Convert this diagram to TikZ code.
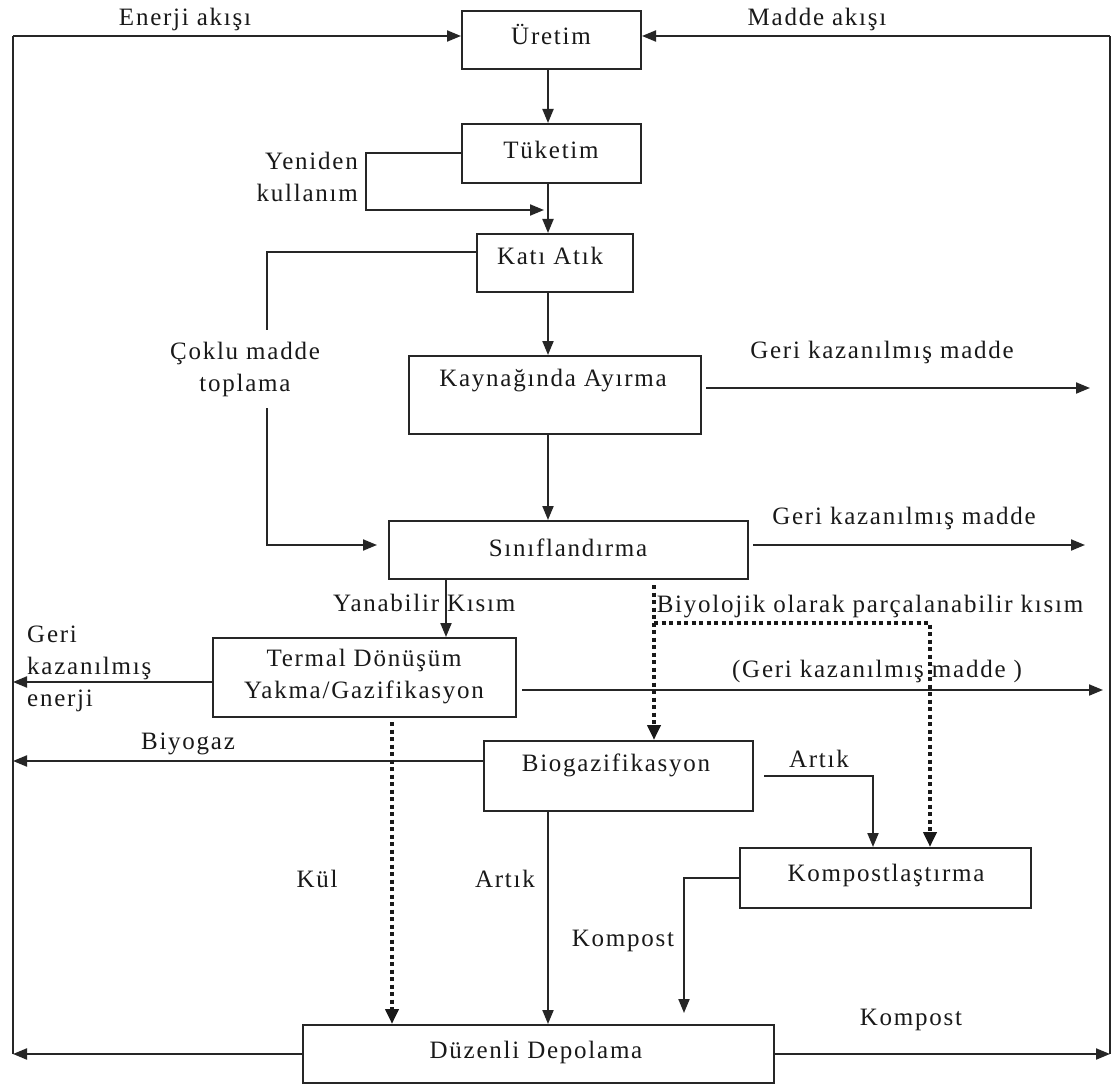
\documentclass[tikz,border=0pt]{standalone}
\usepackage{fontspec}
\setmainfont{Liberation Serif}[LetterSpace=7]
\usetikzlibrary{arrows.meta,calc}
\begin{document}
\begin{tikzpicture}[x=1pt,y=-1pt,
  ln/.style={line width=2pt, draw=black!85},
  arr/.style={ln, -{Triangle[length=14pt,width=11pt]}},
  dotarr/.style={line width=4pt, draw=black!90, dash pattern=on 4pt off 3.5pt, -{Triangle[length=15pt,width=13pt]}},
  box/.style={draw=black!85, line width=2pt, inner sep=0pt, fill=white},
  txt/.style={font=\fontsize{25}{32}\selectfont, inner sep=0pt, text=black!90},
]
\fill[white] (0,0) rectangle (1117,1086);
\useasboundingbox (0,0) rectangle (1117,1086);

% boxes
\node[box, minimum width=179pt, minimum height=58pt] (uretim) at (551.5,40) {};
\node[box, minimum width=179pt, minimum height=59pt] (tuketim) at (551.5,153.5) {};
\node[box, minimum width=156pt, minimum height=58pt] (kati) at (555,263) {};
\node[box, minimum width=292pt, minimum height=78pt] (kaynak) at (555,395) {};
\node[box, minimum width=359pt, minimum height=58pt] (sinif) at (568.5,550) {};
\node[box, minimum width=303pt, minimum height=79pt] (termal) at (364.5,677.5) {};
\node[box, minimum width=269pt, minimum height=70pt] (biogaz) at (618.5,776) {};
\node[box, minimum width=291pt, minimum height=60pt] (kompost) at (885.5,878) {};
\node[box, minimum width=471pt, minimum height=58pt] (duzenli) at (538.5,1054) {};

% box texts
\node[txt, anchor=mid] (uretimT) at (551,42) {Üretim};
\node[txt, anchor=mid] (tuketimT) at (551,156) {Tüketim};
\node[txt, anchor=mid] (katiT) at (550,262) {Katı Atık};
\node[txt, anchor=mid] (kaynakT) at (553,384) {Kaynağında Ayırma};
\node[txt, anchor=mid] (sinifT) at (568,554) {Sınıflandırma};
\node[txt, align=center] (termalT) at (364,677) {Termal Dönüşüm\\Yakma/Gazifikasyon};
\node[txt, anchor=mid] (biogazT) at (616,769) {Biogazifikasyon};
\node[txt, anchor=mid] (kompostT) at (886,879) {Kompostlaştırma};
\node[txt, anchor=mid] (duzenliT) at (536,1056) {Düzenli Depolama};

% coordinates
\coordinate (sp) at (548,0);
\coordinate (LT) at (13,36);
\coordinate (LB) at (13,1054);
\coordinate (RT) at (1110,36);
\coordinate (RB) at (1110,1054);
\coordinate (yb) at (366,210);
\coordinate (ct) at ([yshift=11pt]kati.west);
\coordinate (cm) at (267,545);
\coordinate (yk) at (446,0);
\coordinate (kulS) at (392,722);
\coordinate (bS) at (654,585);
\coordinate (bJ) at (654,623);
\coordinate (bK) at (930,623);
\coordinate (ar) at (873,0);
\coordinate (kpEnd) at (684,1013);
\coordinate (kaS) at ([yshift=7pt]kaynak.east);
\coordinate (kaE) at (1090,0);
\coordinate (siS) at ([yshift=5pt]sinif.east);
\coordinate (siE) at (1085,0);
\coordinate (teE) at ([yshift=-12.5pt]termal.east);
\coordinate (teEnd) at (1103,0);
\coordinate (teW) at ([yshift=-4.5pt]termal.west);
\coordinate (bgW) at ([yshift=15pt]biogaz.west);

% outer loop
\draw[ln] (LB) -- (LT);
\draw[arr] (LT) -- (LT -| uretim.west);
\draw[ln] (RB) -- (RT);
\draw[arr] (RT) -- (RT -| uretim.east);

% main spine
\draw[arr] (uretim.south -| sp) -- (tuketim.north -| sp);
\draw[arr] (tuketim.south -| sp) -- (kati.north -| sp);
\draw[arr] (kati.south -| sp) -- (kaynak.north -| sp);
\draw[arr] (kaynak.south -| sp) -- (sinif.north -| sp);

% Yeniden kullanim
\draw[arr, shorten >=4pt] (tuketim.west) -- (tuketim.west -| yb) -- (yb) -- (yb -| sp);

% Coklu madde toplama
\draw[arr, shorten >=11pt] (ct) -- (ct -| cm) -- (cm) -- (cm -| sinif.west);
\node[txt, align=center, fill=white, inner xsep=2pt, inner ysep=12pt] (coklu) at (245,369) {Çoklu madde\\toplama};

% recovered material
\draw[arr, shorten <=4pt] (kaS) -- (kaS -| kaE);
\draw[arr, shorten <=4pt] (siS) -- (siS -| siE);
\draw[arr, shorten <=5pt] (teE) -- (teE -| teEnd);

% energy outputs
\draw[arr] (teW) -- (teW -| LB);
\draw[arr] (bgW) -- (bgW -| LB);
\draw[arr] (duzenli.west) -- (duzenli.west -| LB);
\draw[arr] (duzenli.east) -- (duzenli.east -| RB);

% Yanabilir
\draw[arr] (sinif.south -| yk) -- (termal.north -| yk);

% dotted flows
\draw[dotarr] (kulS) -- (duzenli.north -| kulS);
\draw[dotarr] (bS) -- (biogaz.north -| bS);
\draw[dotarr] (bJ) -- (bK) -- (kompost.north -| bK);

% Artik, Kompost
\draw[arr, shorten <=10pt] (biogaz.east) -- (biogaz.east -| ar) -- (kompost.north -| ar);
\draw[arr] (biogaz.south -| sp) -- (duzenli.north -| sp);
\draw[arr] (kompost.west) -- (kompost.west -| kpEnd) -- (kpEnd);

% labels
\node[txt, anchor=mid] (enerji) at (185,23) {Enerji akışı};
\node[txt, anchor=mid] (madde) at (817,23) {Madde akışı};
\node[txt, align=right, anchor=east] (yeniden) at (358,177) {Yeniden\\kullanım};
\node[txt, anchor=mid] (gk1) at (882,356) {Geri kazanılmış madde};
\node[txt, anchor=mid] (gk2) at (904,522) {Geri kazanılmış madde};
\node[txt, anchor=mid west] (yanabilir) at (333,609) {Yanabilir Kısım};
\node[txt, anchor=mid] (biyolojik) at (870,610) {Biyolojik olarak parçalanabilir kısım};
\node[txt, align=left, anchor=west] (gkenerji) at (27,669) {Geri\\kazanılmış\\enerji};
\node[txt, anchor=mid] (gk3) at (877,675) {(Geri kazanılmış madde )};
\node[txt, anchor=mid] (biyogaz) at (188,747) {Biyogaz};
\node[txt, anchor=mid] (artik1) at (819,765) {Artık};
\node[txt, anchor=mid] (kul) at (317,885) {Kül};
\node[txt, anchor=mid] (artik2) at (505,885) {Artık};
\node[txt, anchor=mid] (kompost1) at (623,944) {Kompost};
\node[txt, anchor=mid] (kompost2) at (911,1023) {Kompost};
\end{tikzpicture}
\end{document}
